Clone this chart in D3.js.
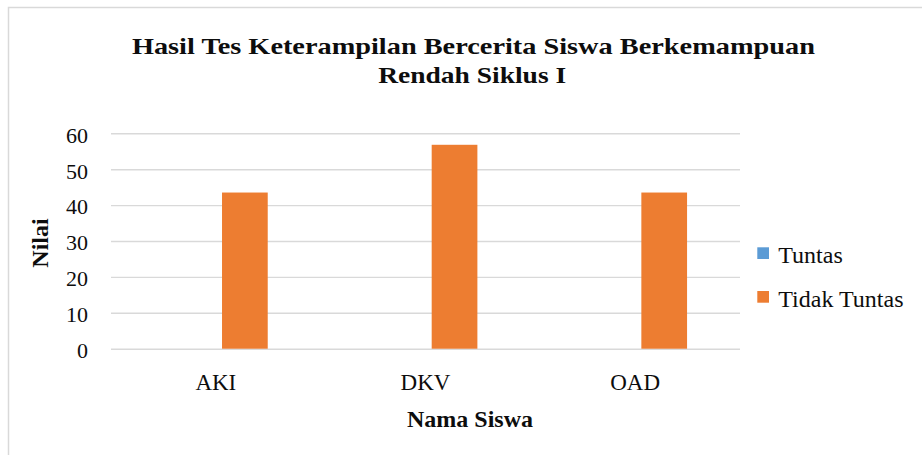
<!DOCTYPE html>
<html>
<head>
<meta charset="utf-8">
<script src="https://cdn.jsdelivr.net/npm/d3@7"></script>
<style>
  html, body { margin: 0; padding: 0; background: #ffffff; }
  svg { display: block; }
  text { font-family: "Liberation Serif", "DejaVu Serif", serif; fill: #0d0d0d; }
</style>
</head>
<body>
<svg id="chart" width="922" height="455"></svg>
<script>
// ---- data ----
const categories = ["AKI", "DKV", "OAD"];
const seriesNames = ["Tuntas", "Tidak Tuntas"];
const tuntasValues = [0, 0, 0];
const tidakTuntasValues = [43.5, 56.8, 43.5];
const yTickValues = [0, 10, 20, 30, 40, 50, 60];
const titleLines = ["Hasil Tes Keterampilan Bercerita Siswa Berkemampuan", "Rendah Siklus I"];
const xAxisTitle = "Nama Siswa";
const yAxisTitle = "Nilai";

const seriesColors = ["#5b9bd5", "#ed7d31"];
const series = seriesNames.map((name, i) => ({
  name,
  values: i === 0 ? tuntasValues : tidakTuntasValues
}));
const rows = categories.map((c, ci) => ({
  category: c,
  items: series.map(s => ({ name: s.name, value: s.values[ci] }))
}));

// ---- layout ----
const W = 922, H = 455;
const FONT = '"Liberation Serif", "DejaVu Serif", serif';
const plot = { left: 111, right: 740, top: 133.3, bottom: 348.7 };
const svg = d3.select("#chart");

// chart frame
svg.append("rect")
  .attr("x", 8.5).attr("y", 7.5)
  .attr("width", W + 10).attr("height", H + 10)
  .attr("fill", "#ffffff")
  .attr("stroke", "#d9d9d9").attr("stroke-width", 1.5);

// scales
const y = d3.scaleLinear().domain([0, 60]).range([plot.bottom, plot.top]);
const x0 = d3.scaleBand().domain(categories).range([plot.left, plot.right])
  .paddingInner(0.505).paddingOuter(0.2525);
const x1 = d3.scaleBand().domain(seriesNames).range([0, x0.bandwidth()])
  .paddingInner(0.213).paddingOuter(0);
const color = d3.scaleOrdinal().domain(seriesNames).range(seriesColors);

// gridlines
const grid = svg.append("g")
  .attr("transform", `translate(${plot.left},0)`)
  .call(d3.axisLeft(y).tickValues(yTickValues).tickSize(-(plot.right - plot.left)).tickFormat(""));
grid.select(".domain").remove();
grid.selectAll(".tick line").attr("stroke", "#d9d9d9").attr("stroke-width", 1.4);

// y axis labels
const yAxis = svg.append("g")
  .attr("transform", `translate(${plot.left},0)`)
  .call(d3.axisLeft(y).tickValues(yTickValues).tickSize(0).tickPadding(23));
yAxis.select(".domain").remove();
yAxis.selectAll("text")
  .style("font-family", FONT)
  .style("font-size", "22px")
  .style("fill", "#0d0d0d")
  .attr("dy", "0.4em");

// bars
const groups = svg.append("g").selectAll("g")
  .data(rows).join("g")
  .attr("transform", d => `translate(${x0(d.category)},0)`);
groups.selectAll("rect")
  .data(d => d.items).join("rect")
  .attr("x", d => x1(d.name))
  .attr("width", x1.bandwidth())
  .attr("y", d => y(d.value))
  .attr("height", d => y(0) - y(d.value))
  .attr("fill", d => color(d.name));

// x axis labels (category axis over the plot band)
const xLab = d3.scaleBand().domain(categories).range([plot.left, plot.right]);
const xAxis = svg.append("g")
  .attr("transform", `translate(0,${plot.bottom})`)
  .call(d3.axisBottom(xLab).tickSize(0));
xAxis.select(".domain").remove();
xAxis.selectAll("text")
  .style("font-family", FONT)
  .style("font-size", "23px")
  .style("fill", "#0d0d0d")
  .attr("y", 41.3).attr("dy", 0);

// title
svg.append("g").selectAll("text")
  .data(titleLines).join("text")
  .attr("x", (d, i) => i === 0 ? 473.4 : 472.2)
  .attr("y", (d, i) => 54.3 + i * 29)
  .attr("text-anchor", "middle")
  .style("font-family", FONT)
  .style("font-size", "24px")
  .style("font-weight", "bold")
  .attr("textLength", (d, i) => i === 0 ? 683 : 188)
  .attr("lengthAdjust", "spacingAndGlyphs")
  .text(d => d);

// axis titles
svg.append("text")
  .attr("x", 470).attr("y", 427.3)
  .attr("text-anchor", "middle")
  .style("font-family", FONT)
  .style("font-size", "24px").style("font-weight", "bold")
  .text(xAxisTitle);
svg.append("text")
  .attr("transform", "translate(48.3,243) rotate(-90)")
  .attr("text-anchor", "middle")
  .style("font-family", FONT)
  .style("font-size", "24px").style("font-weight", "bold")
  .text(yAxisTitle);

// legend
const legY = d3.scalePoint().domain(seriesNames).range([253.2, 296.9]);
const leg = svg.append("g").selectAll("g")
  .data(seriesNames).join("g")
  .attr("transform", d => `translate(757.3,${legY(d)})`);
leg.append("rect")
  .attr("x", 0).attr("y", -5.9)
  .attr("width", 11.7).attr("height", 11.7)
  .attr("fill", d => color(d));
leg.append("text")
  .attr("x", 21).attr("y", 10.1)
  .style("font-family", FONT)
  .style("font-size", "24px")
  .text(d => d);
</script>
</body>
</html>
